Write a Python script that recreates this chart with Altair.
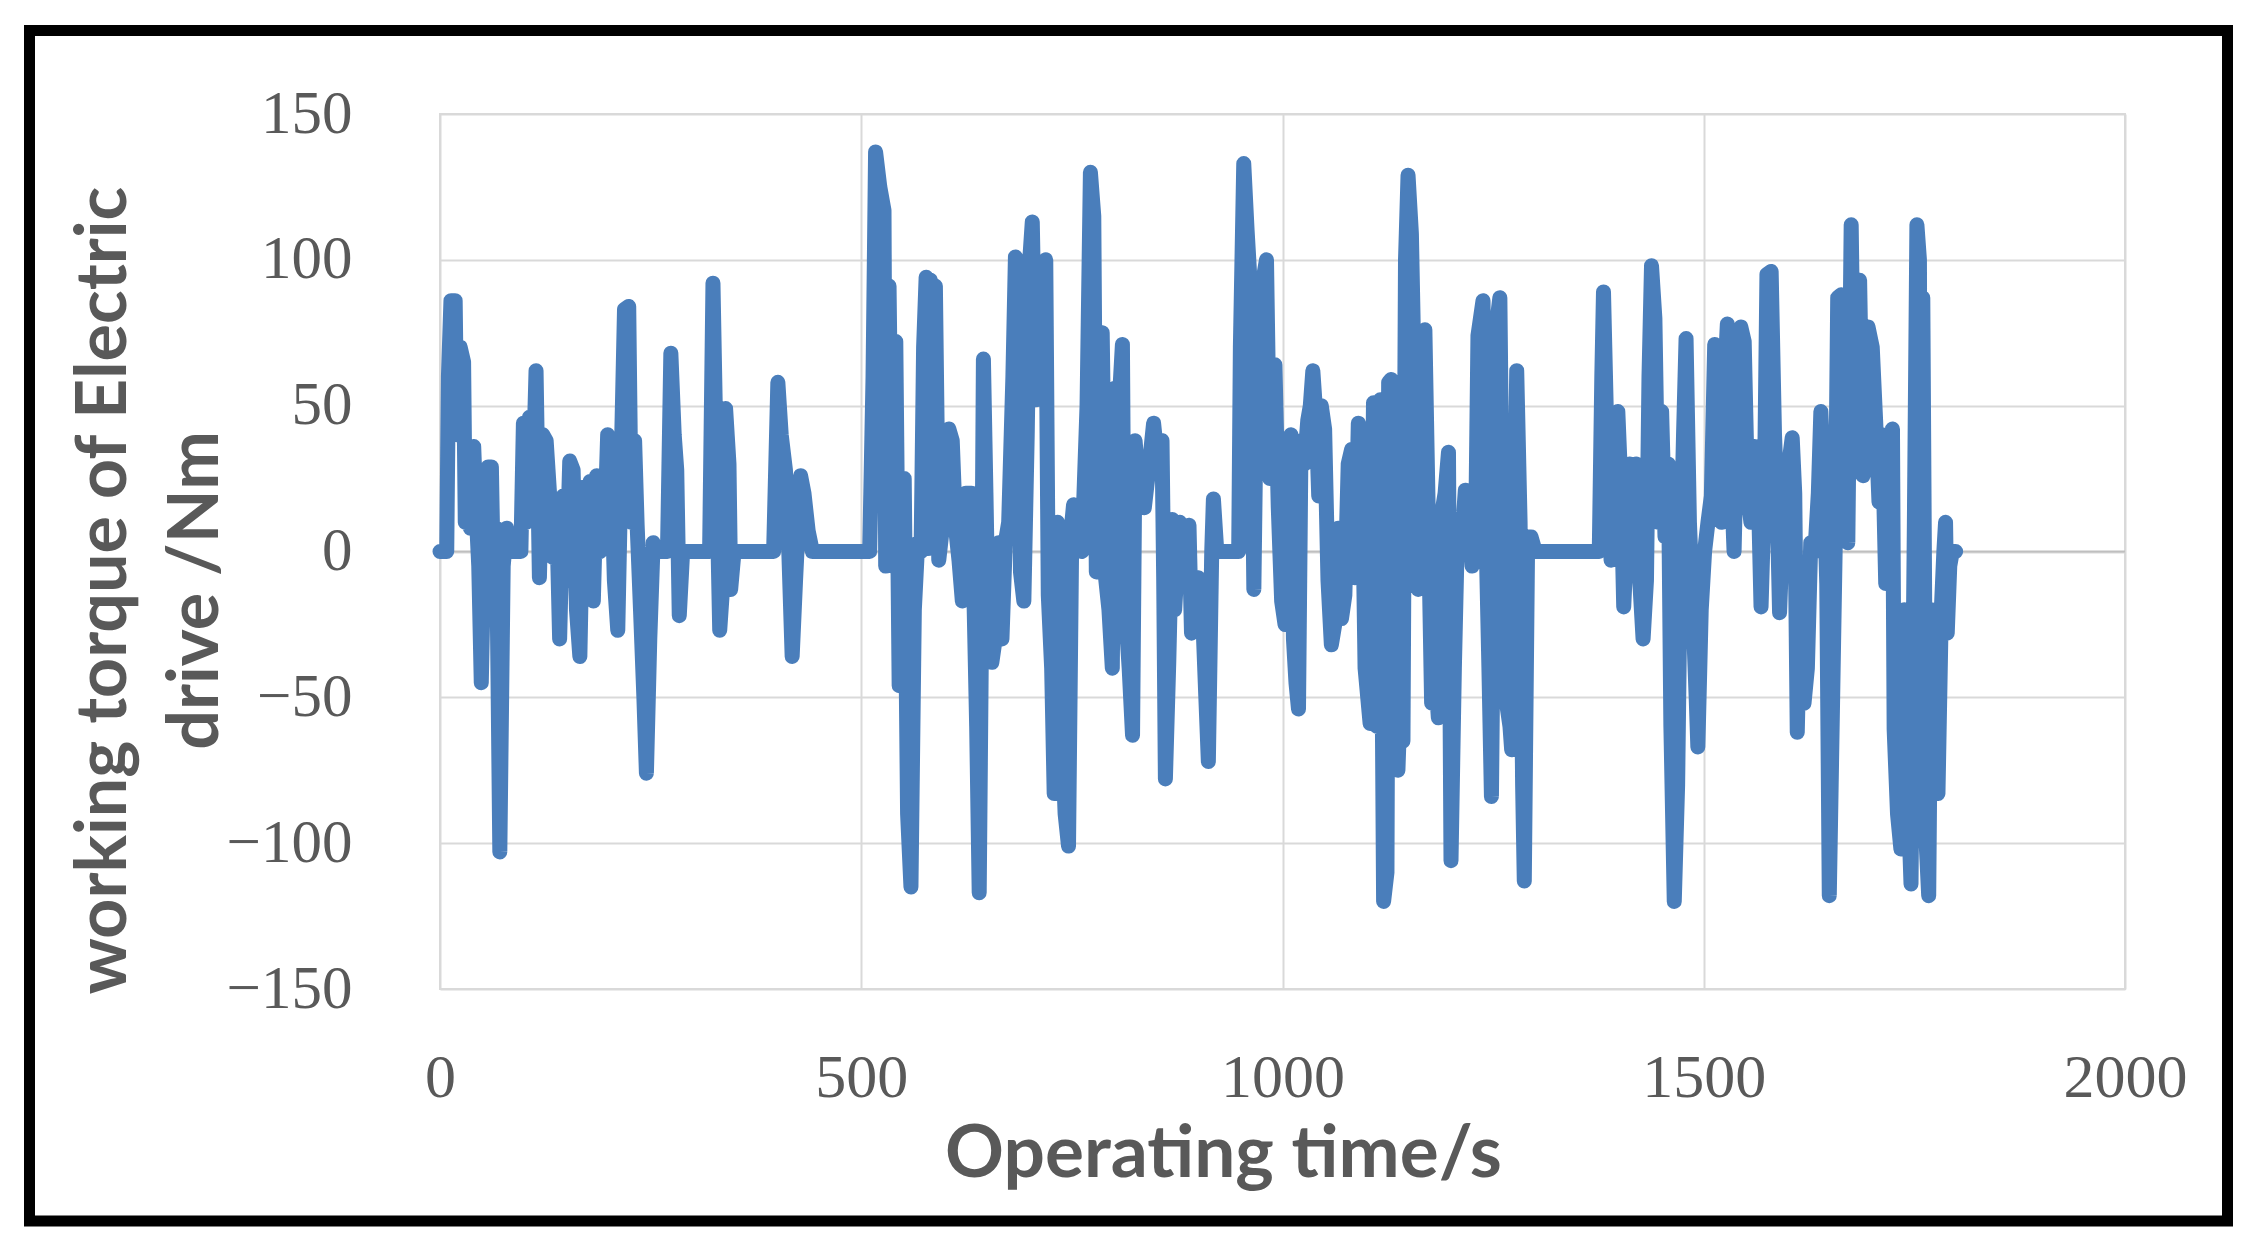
import altair as alt
import pandas as pd

# Operating time (s) and torque (Nm)
T = [0, 8, 10, 13, 18, 20, 24, 28, 30, 33, 36, 40, 43, 46, 49, 53, 57, 61, 64, 67, 71, 75, 79, 83, 96,
     99, 103, 106, 110, 114, 118, 122, 126, 130, 134, 138, 142, 146, 150, 154, 158, 162, 166, 170, 174,
     178, 182, 186, 190, 195, 199, 203, 207, 211, 215, 219, 224, 227, 231, 234, 238, 242, 245, 249, 253,
     257, 270, 274, 278, 281, 284, 288, 320, 324, 328, 332, 336, 339, 343, 345, 349, 396, 401, 405, 410,
     414, 418, 422, 428, 432, 437, 442, 510, 514, 517, 522, 527, 529, 533, 537, 541, 545, 551, 555, 559,
     563, 567, 571, 574, 577, 579, 582, 585, 588, 592, 597, 604, 608, 612, 616, 620, 624, 628, 631, 634,
     637, 640, 643, 645, 648, 651, 655, 659, 663, 667, 671, 675, 680, 683, 686, 689, 693, 697, 700, 703,
     707, 711, 715, 719, 722, 726, 729, 733, 738, 742, 746, 750, 752, 756, 762, 768, 772, 776, 779, 782,
     786, 790, 794, 798, 801, 805, 810, 812, 818, 822, 825, 830, 836, 842, 847, 852, 857, 859, 861, 865,
     869, 872, 878, 885, 889, 892, 896, 900, 905, 909, 912, 916, 918, 922, 948, 950, 954, 958, 962, 966,
     970, 974, 978, 981, 985, 989, 991, 995, 999, 1003, 1006, 1010, 1013, 1016, 1019, 1022, 1026, 1030,
     1033, 1036, 1040, 1043, 1046, 1050, 1054, 1058, 1062, 1066, 1070, 1074, 1078, 1082, 1086, 1090,
     1094, 1098, 1104, 1108, 1112, 1116, 1120, 1124, 1126, 1129, 1133, 1137, 1140, 1143, 1146, 1149,
     1153, 1157, 1161, 1165, 1169, 1173, 1177, 1181, 1185, 1189, 1193, 1197, 1200, 1204, 1208, 1212,
     1217, 1221, 1225, 1229, 1232, 1235, 1238, 1242, 1245, 1248, 1252, 1255, 1258, 1262, 1266, 1270,
     1272, 1275, 1278, 1282, 1285, 1287, 1291, 1295, 1300, 1376, 1379, 1381, 1385, 1390, 1394, 1398,
     1402, 1405, 1408, 1412, 1416, 1420, 1424, 1428, 1432, 1435, 1438, 1442, 1446, 1450, 1454, 1458,
     1461, 1465, 1469, 1472, 1476, 1479, 1483, 1487, 1491, 1493, 1497, 1501, 1505, 1509, 1513, 1517,
     1521, 1525, 1528, 1532, 1536, 1540, 1544, 1548, 1552, 1556, 1560, 1564, 1568, 1572, 1575, 1580,
     1584, 1587, 1590, 1594, 1598, 1601, 1605, 1608, 1611, 1615, 1619, 1623, 1627, 1632, 1636, 1639,
     1643, 1646, 1649, 1653, 1656, 1659, 1663, 1667, 1671, 1675, 1679, 1682, 1685, 1689, 1692, 1695,
     1700, 1704, 1708, 1712, 1716, 1720, 1724, 1726, 1730, 1734, 1738, 1742, 1746, 1750, 1753, 1756,
     1758, 1760, 1764, 1767, 1770, 1774, 1778, 1782, 1785, 1787, 1789, 1792, 1795, 1799]
V = [0, 0, 60, 86, 86, 40, 70, 65, 10, 30, 8, 36, 13, -5, -45, 10, 29, 29, -20, 8, -103, -5, 8, 0, 0,
     44, 10, 46, 20, 62, -9, 40, 38, 20, -2, 18, -30, 19, -10, 31, 28, -20, -36, 22, -5,
     24, -17, 26, 0, 3, 40, 30, -10, -27, 30, 83, 84, 10, 38, 9, -20, -50, -76, -30, 3,
     0, 0, 68, 40, 28, -22, 0, 0, 92, 30, -27, -10, 49, 30, -13, 0, 0, 58, 40, 28,
     0, -36, -10, 26, 20, 7, 0, 0, 60, 137, 125, 117, -5, 91, -5, 72, -46, 25, -90, -115,
     -20, 3, 0, 70, 94, 1, 93, 90, 91, -3, 10, 42, 38, 8, -3, -17, 20, 20, 20, -19,
     -60, -117, -20, 66, 20, -30, -38, -30, 3, -30, 3, 10, 60, 101, 90, -7, -17, 40, 100, 113,
     52, 60, 98, 100, -15, -40, -83, 10, -60, -90, -101, 10, 16, 1, 0, 50, 130, 115, -7, 60,
     75, -9, -20, -40, 56, 45, 71, -13, -40, -63, 38, 20, 15, 30, 44, 30, 38, -10, -78, -38,
     11, -20, 10, -5, 9, -28, -10, -9, -20, -50, -72, 0, 18, 0, 0, 70, 133, 110, 90, -13,
     76, 40, 95, 100, 25, 40, 64, 15, -17, -25, 15, 40, -30, -45, -54, 38, 30, 45,
     50, 62, 45, 19, 50, 42, -10, -32, -25, 8, -23, -15, 30, 35, -9, 44,
     40, -40, -59, 51, -60, 52, -120, -110, 58, 59, -60, -75, -50, -65, 100, 129,
     109, 50, -13, 30, 76, 13, -52, -40, -57, 13, 20, 34, -106, -40, 11, 0,
     21, 15, -5, 0, 74, 80, 86, 0, -40, -84, 30, 80, 87, -20, -52, -60,
     -68, 0, 62, 10, -80, -113, 5, 5, 0, 0, 60, 89, 40, -3, 20, 48,
     20, -19, 0, 30, 25, 30, -10, -30, -10, 60, 98, 80, 10, 48, 5, 30,
     -60, -120, -80, -10, 40, 73, 10, -19, -50, -67, -20, 0, 10, 19, 71, 20,
     10, 60, 78, 30, 0, 50, 77, 72, 20, 10, 36, 30, -19, 20, 95, 96,
     40, 17, -21, 10, 20, 30, 39, 20, -62, -10, -52, -40, 3, 0, 20, 48,
     20, -11, -118, -50, 1, 87, 88, 40, 3, 112, 28, 60, 93, 26, 30, 77,
     70, 45, 17, 40, -11, 30, 42, -61, -90, -102, -20, -80, -114, 10, 112, 100,
     -80, 87, -100, -118, -20, -60, -83, -20, 0, 10, -28, -5, 0, 0]

X_TICKS = [0, 500, 1000, 1500, 2000]
Y_TICKS = [-150, -100, -50, 0, 50, 100, 150]

df = pd.DataFrame({"t": T, "torque": V})

TEXT = "#595959"
GRID = "#D9D9D9"
BLUE = "#4A7EBB"
PLOT_W, PLOT_H = 1685, 875

x_enc = alt.X(
    "t:Q",
    scale=alt.Scale(domain=[0, 2000], nice=False),
    axis=alt.Axis(
        values=X_TICKS, format="d", grid=True, gridColor=GRID, gridWidth=2,
        domain=False, ticks=False, labelFont="Liberation Serif", labelFontSize=62,
        labelColor=TEXT, labelPadding=58, labelFlush=False, labelOverlap=False,
        title="Operating time/s", titleFont="Lato", titleFontSize=73,
        titleFontWeight="bold", titleColor=TEXT, titleX=783, titleY=187,
        titleAlign="center", titleBaseline="alphabetic",
    ),
)
y_enc = alt.Y(
    "torque:Q",
    scale=alt.Scale(domain=[-150, 150], nice=False),
    axis=alt.Axis(
        values=Y_TICKS, format="d", grid=True, gridColor=GRID, gridWidth=2,
        domain=False, ticks=False, labelFont="Liberation Serif", labelFontSize=61,
        labelColor=TEXT, labelPadding=88, labelFlush=False, labelOverlap=False,
        title=["working torque of Electric", "drive /Nm"], titleFont="Lato",
        titleFontSize=70, titleFontWeight="bold", titleColor=TEXT,
        titleLineHeight=92, titleAngle=270, titleAlign="center",
        titleBaseline="middle", titleX=-336, titleY=476,
    ),
)

line = alt.Chart(df).mark_line(
    color=BLUE, strokeWidth=15, strokeJoin="round", strokeCap="round"
).encode(x=x_enc, y=y_enc)

zero = alt.Chart(pd.DataFrame({"z": [0]})).mark_rule(
    color="#BFBFBF", strokeWidth=2
).encode(y=alt.Y("z:Q"))

frame = alt.Chart(pd.DataFrame({"f": [0]})).mark_rect(
    filled=False, stroke="black", strokeWidth=11
).encode(
    x=alt.value(-410.5), x2=alt.value(1787.5), y=alt.value(-83.5), y2=alt.value(1107)
)

chart = alt.layer(zero, line, frame).properties(
    width=PLOT_W, height=PLOT_H,
    autosize=alt.AutoSizeParams(type="none"),
    padding={"left": 432, "top": 106, "right": 120, "bottom": 240},
    background="white",
).configure_view(stroke=GRID, strokeWidth=2)

chart.save("out.html", embed_options={"renderer": "svg", "actions": False})
